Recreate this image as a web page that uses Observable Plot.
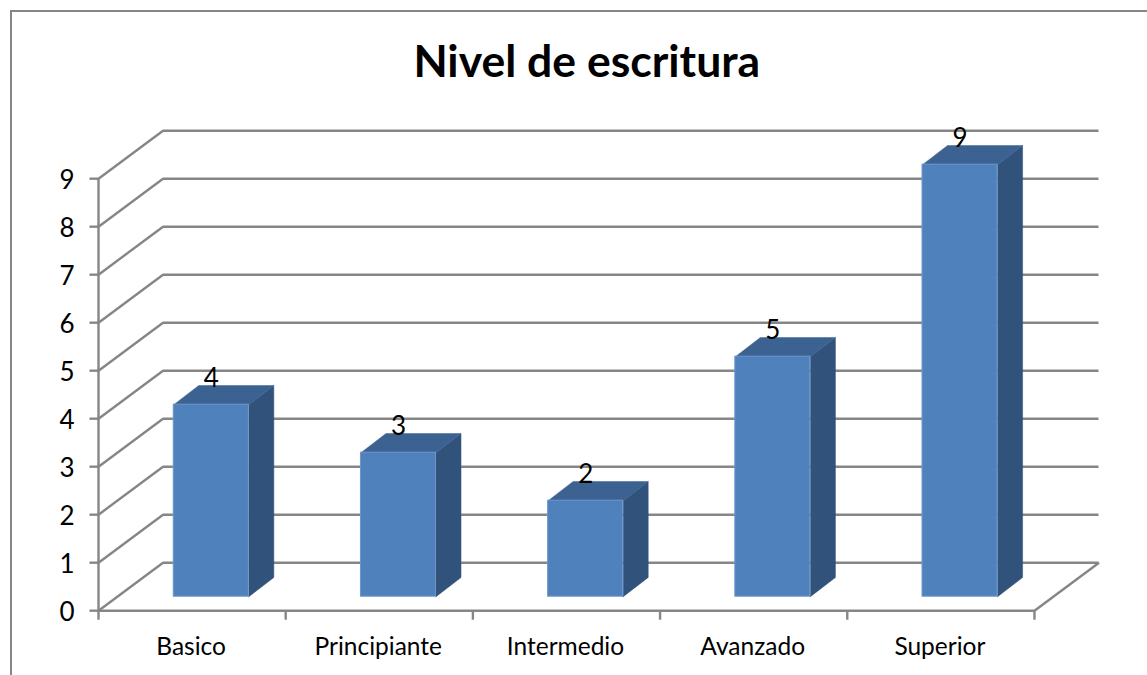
<!DOCTYPE html>
<html>
<head>
<meta charset="utf-8">
<script src="https://cdn.jsdelivr.net/npm/d3@7"></script>
<script src="https://cdn.jsdelivr.net/npm/@observablehq/plot@0.6"></script>
<style>
html,body{margin:0;padding:0;background:#fff;width:1147px;height:675px;overflow:hidden}
#frame{position:absolute;left:10px;top:10px;width:1200px;height:800px;border:2px solid #868686;box-sizing:border-box}
#chart{position:absolute;left:0;top:0}
</style>
</head>
<body>
<div id="frame"></div>
<div id="chart"></div>
<script>
const title = "Nivel de escritura";
const categories = ["Basico", "Principiante", "Intermedio", "Avanzado", "Superior"];
const values = [4, 3, 2, 5, 9];
const yTicks = [0, 1, 2, 3, 4, 5, 6, 7, 8, 9];
const xBounds = [0, 1, 2, 3, 4, 5];

// Oblique projection, in scale units: one category is one x unit, one level one y unit.
const wallDx = 0.3447, wallDy = 1;
const barInset = 0.402, barWidth = 0.401;
const barBase = 0.2917, barDx = 0.1336, barDy = 0.4;

const bars = categories.map((name, i) => ({
  name, value: values[i],
  x1: i + barInset, x2: i + barInset + barWidth,
  y1: barBase, y2: barBase + values[i]
}));
const poly = (f) => bars.flatMap((b) => f(b).map(([x, y]) => ({name: b.name, x, y})));
const sides = poly((b) => [[b.x2, b.y1], [b.x2 + barDx, b.y1 + barDy], [b.x2 + barDx, b.y2 + barDy], [b.x2, b.y2], [b.x2, b.y1]]);
const tops = poly((b) => [[b.x1, b.y2], [b.x1 + barDx, b.y2 + barDy], [b.x2 + barDx, b.y2 + barDy], [b.x2, b.y2], [b.x1, b.y2]]);

const grid = "#868686", font = "Lato, 'Open Sans', sans-serif", lineW = 2.4;
const lastX = xBounds[xBounds.length - 1];
const lastY = yTicks[yTicks.length - 1];

const plot = Plot.plot({
  width: 1147, height: 675,
  marginLeft: 98, marginRight: 48.5, marginTop: 130.2, marginBottom: 64.8,
  style: {background: "transparent", fontFamily: font},
  x: {type: "linear", domain: [0, lastX + wallDx], axis: null},
  y: {type: "linear", domain: [0, lastY + wallDy], axis: null},
  marks: [
    // back wall gridlines
    Plot.ruleY(yTicks, {y: (d) => d + wallDy, x1: wallDx, x2: lastX + wallDx, stroke: grid, strokeWidth: lineW}),
    // side wall diagonals
    Plot.link(yTicks, {x1: 0, x2: wallDx, y1: (d) => d, y2: (d) => d + wallDy, stroke: grid, strokeWidth: lineW}),
    // floor
    Plot.ruleY([0], {x1: 0, x2: lastX, stroke: grid, strokeWidth: lineW}),
    Plot.link([lastX], {x1: (d) => d, x2: (d) => d + wallDx, y1: 0, y2: wallDy, stroke: grid, strokeWidth: lineW}),
    // axis line
    Plot.ruleX([0], {y1: 0, y2: lastY, stroke: grid, strokeWidth: lineW}),
    // axes
    Plot.axisY({ticks: yTicks, anchor: "left", tickSize: 8.5, stroke: grid, strokeWidth: lineW, strokeOpacity: 1, text: null, label: null}),
    Plot.text(yTicks, {x: 0, y: (d) => d, text: (d) => String(d), dx: -31.5, dy: 2, fontSize: 26, fill: "#000", lineAnchor: "middle"}),
    Plot.axisX({ticks: xBounds, anchor: "bottom", tickSize: 9.5, stroke: grid, strokeWidth: lineW, strokeOpacity: 1, text: null, label: null}),
    Plot.text(categories, {x: (d, i) => i + 0.5, y: 0, text: (d) => d, dx: -1, dy: 36, fontSize: 24.5, fill: "#000", lineAnchor: "middle"}),
    // bars
    Plot.line(sides, {x: "x", y: "y", z: "name", fill: "#31527a", stroke: "#31527a", strokeWidth: 0.5, curve: "linear"}),
    Plot.line(tops, {x: "x", y: "y", z: "name", fill: "#3c6291", stroke: "#3c6291", strokeWidth: 0.5, curve: "linear"}),
    Plot.rect(bars, {x1: "x1", x2: "x2", y1: "y1", y2: "y2", fill: "#4f81bd", stroke: "#6d96c9", strokeWidth: 1}),
    // value labels
    Plot.text(bars, {x: (d) => (d.x1 + d.x2) / 2, y: "y2", text: (d) => String(d.value), dy: -26, fontSize: 26, fill: "#000", lineAnchor: "middle"}),
    // title
    Plot.text([title], {frameAnchor: "top", dx: -12, dy: -67.5, fontSize: 44.5, fontWeight: "bold", fill: "#000", lineAnchor: "middle"})
  ]
});
document.getElementById("chart").append(plot);
</script>
</body>
</html>
